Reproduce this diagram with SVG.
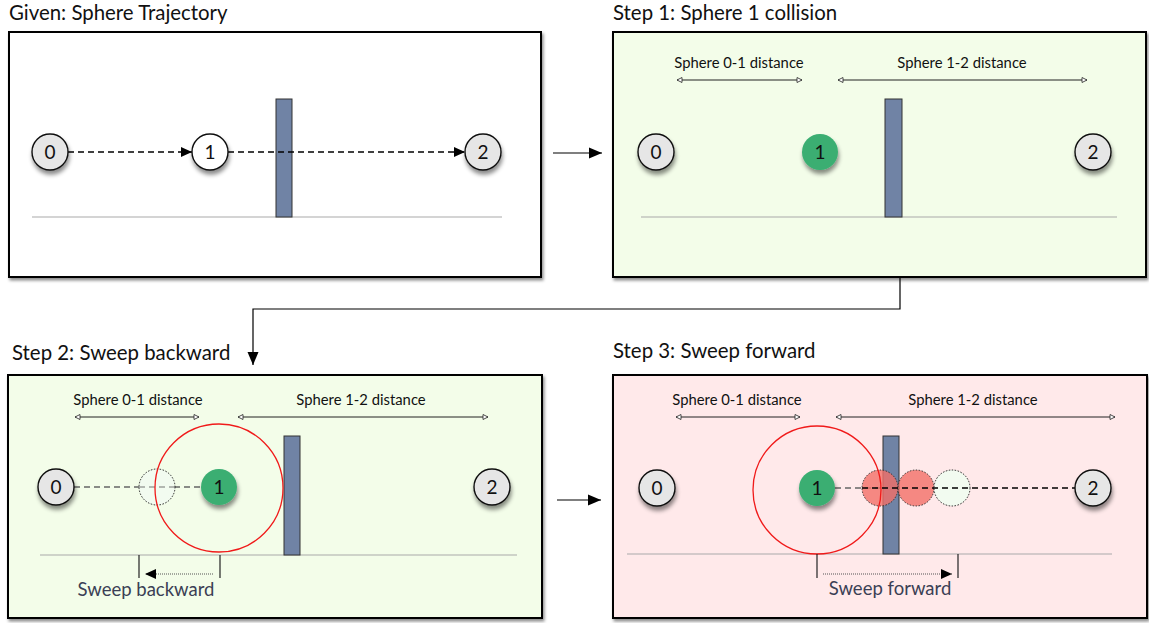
<svg xmlns="http://www.w3.org/2000/svg" width="1149" height="623" viewBox="0 0 1149 623">
<defs>
<style>
.title{font-family:Lato,"Noto Sans",sans-serif;font-size:20.4px;fill:#111}
.dist{font-family:Lato,"Noto Sans",sans-serif;font-size:14.8px;fill:#111;text-anchor:middle}
.sweep{font-family:Lato,"Noto Sans",sans-serif;font-size:18.5px;fill:#3b3f55;text-anchor:middle}
.num{font-family:Lato,"Noto Sans",sans-serif;font-size:19px;fill:#111;text-anchor:middle}
.panel{stroke:#000;stroke-width:2;filter:url(#pshadow)}
.bar{fill:#7083a5;stroke:#333;stroke-width:1}
.base{stroke:#aaa;stroke-width:1.2;fill:none}
.sph{fill:#e6e6e6;stroke:#111;stroke-width:1.4;filter:url(#cshadow)}
.sphw{fill:#fff;stroke:#111;stroke-width:1.4;filter:url(#cshadow)}
.sphg{fill:#3aae72;stroke:none;filter:url(#cshadow)}
.ghost{fill:#f2fbf0;stroke:#222;stroke-width:1;stroke-dasharray:1.5 1.5}
.hit{fill:#f26f68;fill-opacity:0.8;stroke:#333;stroke-width:1;stroke-dasharray:1.5 1.5}
.ring{fill:none;stroke:#f01a1a;stroke-width:1.3}
.dash{stroke:#000;stroke-width:1.3;stroke-dasharray:6 4;fill:none}
.dashg{stroke:#666;stroke-width:1.6;stroke-dasharray:6 4;fill:none}
.darr{stroke:#222;stroke-width:1;fill:none;marker-start:url(#open);marker-end:url(#open)}
.tick{stroke:#222;stroke-width:1.2}
.dot{stroke:#555;stroke-width:1.2;stroke-dasharray:1 1;fill:none;marker-end:url(#fill)}
.conn{stroke:#000;stroke-width:1.2;fill:none;marker-end:url(#big)}
</style>
<filter id="pshadow" x="-5%" y="-5%" width="110%" height="115%">
<feDropShadow dx="1.5" dy="2.5" stdDeviation="1.5" flood-color="#000" flood-opacity="0.45"/>
</filter>
<filter id="cshadow" x="-40%" y="-40%" width="180%" height="200%">
<feDropShadow dx="1" dy="4" stdDeviation="2.2" flood-color="#000" flood-opacity="0.45"/>
</filter>
<marker id="fill" markerUnits="userSpaceOnUse" markerWidth="12" markerHeight="10" refX="11" refY="5" orient="auto">
<path d="M0,0 L11,5 L0,10 Z" fill="#000"/>
</marker>
<marker id="open" markerUnits="userSpaceOnUse" markerWidth="8" markerHeight="8" refX="6" refY="4" orient="auto-start-reverse">
<path d="M1,1.5 L6,4 L1,6.5 Z" fill="#fff" stroke="#222" stroke-width="0.8"/>
</marker>
<marker id="big" markerUnits="userSpaceOnUse" markerWidth="14" markerHeight="12" refX="13" refY="6" orient="auto">
<path d="M0,0.5 L13,6 L0,11.5 Z" fill="#000"/>
</marker>
</defs>

<g id="connectors">
<line class="conn" x1="553" y1="153" x2="602" y2="153"/>
<path class="conn" d="M900,278 V309 H253 V365"/>
<line class="conn" x1="557" y1="500" x2="601" y2="500"/>
</g>

<g id="panel-given">
<text class="title" x="9" y="20">Given: Sphere Trajectory</text>
<rect class="panel" x="9" y="32" width="532" height="245" fill="#fff"/>
<line class="base" x1="32" y1="217" x2="502" y2="217"/>
<rect class="bar" x="276" y="99" width="16" height="118"/>
<line class="dash" x1="68" y1="152" x2="192" y2="152" style="marker-end:url(#fill)"/>
<line class="dash" x1="228" y1="152" x2="465" y2="152" style="marker-end:url(#fill)"/>
<circle class="sph" cx="50" cy="152" r="18"/><text class="num" x="50" y="159">0</text>
<circle class="sphw" cx="210" cy="152" r="18"/><text class="num" x="210" y="159">1</text>
<circle class="sph" cx="483" cy="152" r="18"/><text class="num" x="483" y="159">2</text>
</g>

<g id="panel-step1">
<text class="title" x="613" y="20">Step 1: Sphere 1 collision</text>
<rect class="panel" x="613" y="32" width="533" height="245" fill="#f3fde9"/>
<text class="dist" x="739" y="68">Sphere 0-1 distance</text>
<text class="dist" x="962" y="68">Sphere 1-2 distance</text>
<line class="darr" x1="677" y1="80" x2="802" y2="80"/>
<line class="darr" x1="838" y1="80" x2="1087" y2="80"/>
<line class="base" x1="641" y1="217" x2="1117" y2="217"/>
<rect class="bar" x="885" y="99" width="17" height="118"/>
<circle class="sph" cx="656" cy="152" r="18"/><text class="num" x="656" y="159">0</text>
<circle class="sphg" cx="820" cy="152" r="18"/><text class="num" x="820" y="159">1</text>
<circle class="sph" cx="1093" cy="152" r="18"/><text class="num" x="1093" y="159">2</text>
</g>

<g id="panel-step2">
<text class="title" x="12" y="360">Step 2: Sweep backward</text>
<rect class="panel" x="8" y="375" width="534" height="243" fill="#f3fde9"/>
<text class="dist" x="138" y="405">Sphere 0-1 distance</text>
<text class="dist" x="361" y="405">Sphere 1-2 distance</text>
<line class="darr" x1="75" y1="417" x2="199" y2="417"/>
<line class="darr" x1="238" y1="417" x2="488" y2="417"/>
<line class="base" x1="40" y1="555" x2="517" y2="555"/>
<rect class="bar" x="284" y="436" width="16" height="119"/>
<line class="dashg" x1="74" y1="487" x2="201" y2="487"/>
<circle class="ghost" cx="157" cy="487" r="18"/>
<line class="dashg" x1="139" y1="487" x2="175" y2="487" stroke-opacity="0.6"/>
<circle class="sph" cx="56" cy="487" r="18"/><text class="num" x="56" y="494">0</text>
<circle class="sphg" cx="219" cy="487" r="18"/><text class="num" x="219" y="494">1</text>
<circle class="ring" cx="219" cy="488" r="64"/>
<circle class="sph" cx="492" cy="487" r="18"/><text class="num" x="492" y="494">2</text>
<line class="tick" x1="139" y1="555" x2="139" y2="578"/>
<line class="tick" x1="220" y1="555" x2="220" y2="578"/>
<line class="dot" x1="213" y1="574" x2="145" y2="574"/>
<text class="sweep" x="146" y="596">Sweep backward</text>
</g>

<g id="panel-step3">
<text class="title" x="613" y="358">Step 3: Sweep forward</text>
<rect class="panel" x="613" y="375" width="534" height="243" fill="#ffe9ea"/>
<text class="dist" x="737" y="405">Sphere 0-1 distance</text>
<text class="dist" x="973" y="405">Sphere 1-2 distance</text>
<line class="darr" x1="676" y1="417" x2="800" y2="417"/>
<line class="darr" x1="836" y1="417" x2="1115" y2="417"/>
<line class="base" x1="627" y1="554" x2="1112" y2="554"/>
<line class="dashg" x1="835" y1="488" x2="900" y2="488"/>
<rect class="bar" x="883" y="436" width="16" height="118"/>
<circle class="hit" cx="880" cy="488" r="18"/>
<circle class="hit" cx="916" cy="488" r="18"/>
<circle class="ghost" cx="952" cy="488" r="18"/>
<line class="dash" x1="862" y1="488" x2="1075" y2="488"/>
<circle class="sph" cx="657" cy="488" r="18"/><text class="num" x="657" y="495">0</text>
<circle class="sphg" cx="817" cy="488" r="18"/><text class="num" x="817" y="495">1</text>
<circle class="ring" cx="817" cy="490" r="64"/>
<circle class="sph" cx="1093" cy="488" r="18"/><text class="num" x="1093" y="495">2</text>
<line class="tick" x1="817" y1="554" x2="817" y2="578"/>
<line class="tick" x1="958" y1="554" x2="958" y2="578"/>
<line class="dot" x1="823" y1="574" x2="952" y2="574"/>
<text class="sweep" x="890" y="595">Sweep forward</text>
</g>
</svg>
